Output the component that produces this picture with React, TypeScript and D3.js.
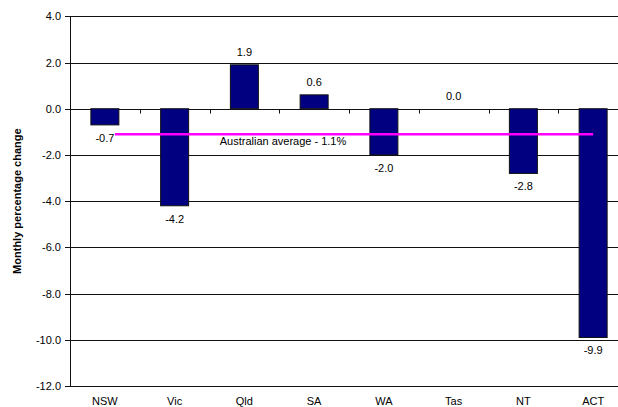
import React from "react";
import * as d3 from "d3";

const states = ["NSW", "Vic", "Qld", "SA", "WA", "Tas", "NT", "ACT"];
const changes = [-0.7, -4.2, 1.9, 0.6, -2.0, 0.0, -2.8, -9.9];
const yTicks = [4, 2, 0, -2, -4, -6, -8, -10, -12];
const australianAverage = -1.1;
const averageLabel = "Australian average - 1.1%";
const yTitle = "Monthly percentage change";

const W = 618;
const H = 407;
const left = 70;
const right = 628;
const top = 16.3;
const bottom = 386;

export default function App() {
  const xb = d3.scaleBand<string>().domain(states).range([left, right]);
  const y = d3.scaleLinear().domain([-12, 4]).range([bottom, top]);
  const font = "Arial, 'Liberation Sans', sans-serif";
  const y0 = Math.round(y(0)) + 0.5;
  const xc = (s: string) => (xb(s) as number) + xb.bandwidth() / 2;
  const bw = 28;
  const avgY = y(australianAverage);

  return (
    <svg
      width={W}
      height={H}
      style={{ position: "absolute", left: 0, top: 0, background: "#fff" }}
      fontFamily={font}
    >
      {yTicks.map((t) => {
        const yy = Math.round(y(t)) + 0.5;
        return (
          <g key={t}>
            <line x1={left} x2={right} y1={yy} y2={yy} stroke="#111" strokeWidth={1} />
            <line x1={left - 5} x2={left} y1={yy} y2={yy} stroke="#111" strokeWidth={1} />
            <text x={61} y={yy} dy="0.35em" textAnchor="end" fontSize={11} fill="#000">
              {t.toFixed(1)}
            </text>
          </g>
        );
      })}
      <line x1={left + 0.5} x2={left + 0.5} y1={top} y2={bottom + 0.5} stroke="#111" />
      {states.map((s) => (
        <line
          key={"t" + s}
          x1={Math.round(xb(s) as number) + 0.5}
          x2={Math.round(xb(s) as number) + 0.5}
          y1={y0}
          y2={y0 + 4}
          stroke="#111"
        />
      ))}
      {states.map((s, i) => {
        const v = changes[i];
        const cx = xc(s);
        const y1 = y(Math.max(0, v));
        const y2 = y(Math.min(0, v));
        return (
          <g key={s}>
            {v !== 0 && (
              <rect
                x={cx - bw / 2}
                y={y1}
                width={bw}
                height={y2 - y1}
                fill="#000080"
                stroke="#111"
                strokeWidth={1}
              />
            )}
            <text
              x={cx}
              y={v >= 0 ? y(v) - 13 : y(v) + 13}
              dy="0.35em"
              textAnchor="middle"
              fontSize={11}
              fill="#000"
            >
              {v.toFixed(1)}
            </text>
            <text x={cx} y={404.5} textAnchor="middle" fontSize={11} fill="#000">
              {s}
            </text>
          </g>
        );
      })}
      <line
        x1={xc(states[0]) + 10}
        x2={xc(states[states.length - 1])}
        y1={avgY}
        y2={avgY}
        stroke="#ff00ff"
        strokeWidth={2.5}
      />
      <text x={283} y={avgY + 7} dy="0.35em" textAnchor="middle" fontSize={11} fill="#000">
        {averageLabel}
      </text>
      <text
        transform={`translate(17,${(top + bottom) / 2}) rotate(-90)`}
        textAnchor="middle"
        dy="0.35em"
        fontSize={11}
        fontWeight="bold"
        fill="#000"
      >
        {yTitle}
      </text>
    </svg>
  );
}
